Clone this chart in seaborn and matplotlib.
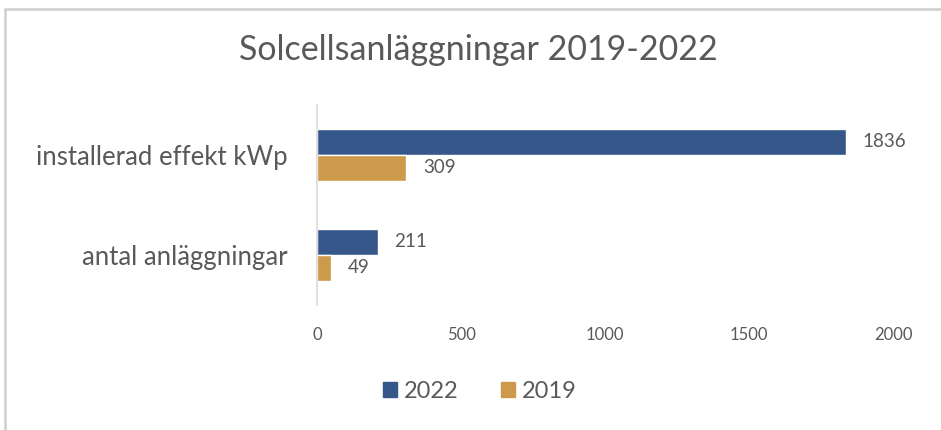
#!/usr/bin/env python3
"""
Solcellsanläggningar 2019-2022 - horisontellt stapeldiagram
"""

import pandas as pd
import matplotlib.pyplot as plt
import seaborn as sns
from matplotlib.patches import Rectangle

categories = ['installerad effekt kWp', 'antal anläggningar']
years = ['2022', '2019']
values_2022 = [1836, 211]
values_2019 = [309, 49]
x_ticks = [0, 500, 1000, 1500, 2000]

colors = {'2022': '#35578A', '2019': '#CC9A4A'}
text_color = '#595959'

sns.set_theme(style='white')
plt.rcParams['font.family'] = ['Lato', 'DejaVu Sans']

df = pd.DataFrame({
    'kategori': categories * 2,
    'år': ['2022'] * len(categories) + ['2019'] * len(categories),
    'värde': values_2022 + values_2019,
})

fig = plt.figure(figsize=(9.41, 4.30), dpi=100)
ax = fig.add_axes([0.337, 0.291, 0.612, 0.465])

sns.barplot(data=df, y='kategori', x='värde', hue='år', hue_order=years,
            order=categories, palette=colors, orient='h', width=0.52,
            ax=ax, legend=False, saturation=1)

# datalabels
for container in ax.containers:
    ax.bar_label(container, fmt='%d', padding=12, fontsize=13.5, color=text_color)

ax.set_xlim(0, 2000)
ax.set_xticks(x_ticks)
ax.set_ylim(1.5, -0.5)
ax.set_xlabel('')
ax.set_ylabel('')
ax.tick_params(axis='x', labelsize=12, colors=text_color, length=0, pad=16)
ax.tick_params(axis='y', labelsize=18.5, colors=text_color, length=0, pad=21)

for side in ['top', 'right', 'bottom']:
    ax.spines[side].set_visible(False)
ax.spines['left'].set_color('#D9D9D9')
ax.spines['left'].set_linewidth(1.2)

fig.suptitle('Solcellsanläggningar 2019-2022', x=0.508, y=0.92,
             fontsize=24.5, color=text_color)

handles = [plt.Rectangle((0, 0), 1, 1, color=colors[y]) for y in years]
fig.legend(handles, years, loc='center', bbox_to_anchor=(0.51, 0.09), ncol=2,
           frameon=False, fontsize=17, handlelength=0.6, handleheight=0.6,
           handletextpad=0.3, columnspacing=1.8, labelcolor=text_color)

# diagramram
fig.patches.append(Rectangle((0.005, -0.1), 1.1, 1.08, transform=fig.transFigure,
                             fill=False, edgecolor='#CFCFCF', linewidth=1.8))

plt.savefig('out.png', dpi=100)
plt.close()
